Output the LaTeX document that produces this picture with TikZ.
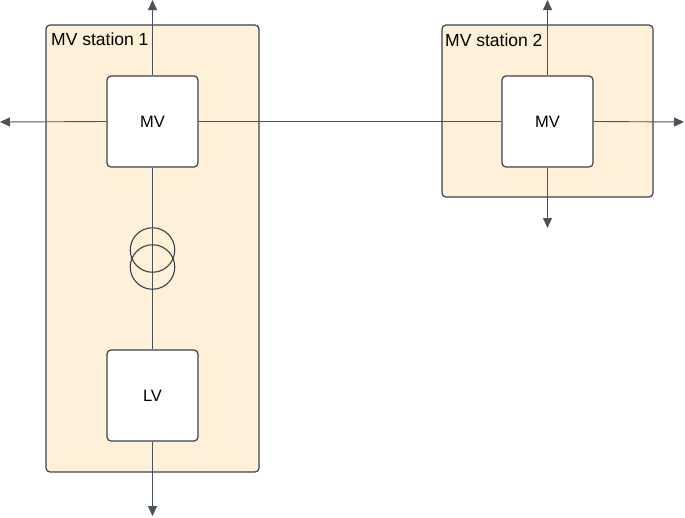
\documentclass[tikz,border=0pt]{standalone}
\usepackage{fontspec}
\setmainfont{Liberation Sans}
\usetikzlibrary{arrows.meta}
\definecolor{stfill}{HTML}{FEF1D8}
\definecolor{edge}{HTML}{3A414A}
\definecolor{wire}{HTML}{4A525C}
\tikzset{
  station/.style={draw=edge, fill=stfill, line width=1.2pt, rounded corners=4pt},
  bus/.style={draw=edge, fill=white, line width=1.2pt, rounded corners=4pt, minimum width=91pt, minimum height=91pt, inner sep=0pt, font=\fontsize{16.5}{18}\selectfont},
  wireline/.style={draw=wire, line width=0.9pt},
  feed/.style={wireline, -{Triangle[length=10pt,width=9pt]}},
  lbl/.style={font=\fontsize{17.5}{20}\selectfont, inner sep=0pt, anchor=base west},
  trafo/.style={draw=edge, line width=1.1pt}
}
\begin{document}
\begin{tikzpicture}[x=1pt,y=-1pt]
\useasboundingbox (0,0) rectangle (685,517);
% station backgrounds
\draw[station] (46,25) rectangle (259,472);
\draw[station] (442,25) rectangle (653,197);
\node[lbl] (l1) at (51,45) {MV station 1};
\node[lbl] (l2) at (445,46.5) {MV station 2};
% free ends
\coordinate (t1) at (152.5,0);
\coordinate (w1) at (0,122);
\coordinate (b1) at (152.5,516);
\coordinate (t2) at (547.5,0);
\coordinate (e2) at (684,122);
\coordinate (b2) at (547.5,228);
% nodes
\node[bus] (mv1) at (152.5,121.5) {MV};
\node[bus] (lv1) at (152.5,395.5) {LV};
\node[bus] (mv2) at (547.5,121.5) {MV};
% wires
\draw[wireline] (mv1.south) -- (lv1.north);
\draw[wireline] (mv1.east) -- (mv2.west);
\draw[feed] (mv1.north) -- (t1);
\draw[feed] (mv1.west) -- (w1);
\draw[feed] (lv1.south) -- (b1);
\draw[feed] (mv2.north) -- (t2);
\draw[feed] (mv2.east) -- (e2);
\draw[feed] (mv2.south) -- (b2);
% transformer
\node[trafo, circle, minimum size=44.5pt, inner sep=0pt] (c1) at (152.5,250) {};
\node[trafo, circle, minimum size=44.5pt, inner sep=0pt] (c2) at (152.5,267) {};
\end{tikzpicture}
\end{document}
